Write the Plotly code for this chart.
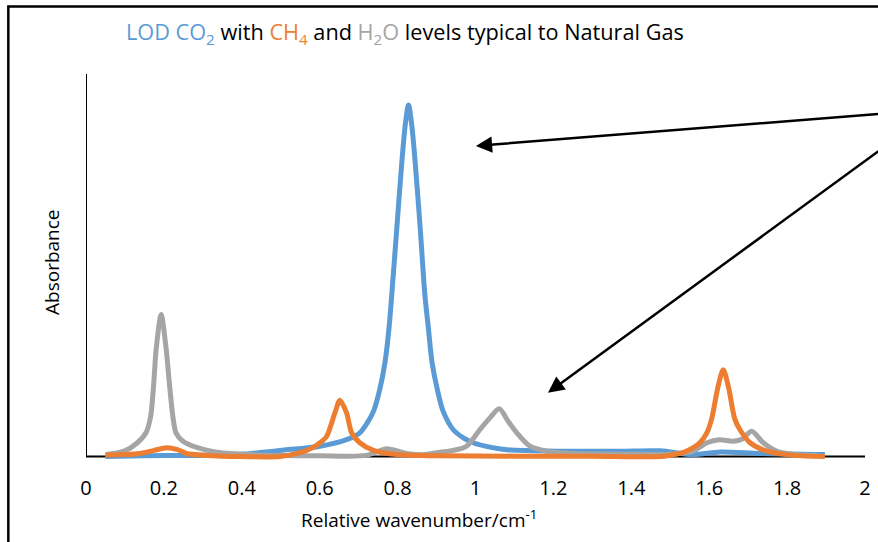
import plotly.graph_objects as go

# ---- data ----
co2_x = [0.05, 0.15, 0.25, 0.395, 0.498, 0.601, 0.669, 0.703, 0.722, 0.738, 0.755, 0.768, 0.778, 0.785,
         0.798, 0.811, 0.820, 0.828, 0.836, 0.845, 0.858, 0.870, 0.879, 0.888, 0.902, 0.917, 0.943, 0.970,
         0.994, 1.04, 1.08, 1.208, 1.371, 1.474, 1.559, 1.628, 1.73, 1.897]
co2_y = [0.0, 0.002, 0.003, 0.005, 0.016, 0.027, 0.044, 0.062, 0.088, 0.118, 0.179, 0.249, 0.336, 0.423,
         0.597, 0.771, 0.870, 0.919, 0.870, 0.771, 0.597, 0.423, 0.336, 0.249, 0.175, 0.118, 0.070, 0.048,
         0.036, 0.024, 0.018, 0.014, 0.014, 0.015, 0.005, 0.012, 0.008, 0.005]

h2o_x = [0.05, 0.098, 0.132, 0.154, 0.166, 0.174, 0.180, 0.193, 0.206, 0.214, 0.223, 0.231, 0.249, 0.286,
         0.336, 0.45, 0.60, 0.72, 0.772, 0.823, 0.87, 0.909, 0.943, 0.977, 1.011, 1.037, 1.061, 1.084, 1.106,
         1.140, 1.183, 1.25, 1.40, 1.50, 1.559, 1.594, 1.626, 1.662, 1.685, 1.709, 1.739, 1.773, 1.82, 1.88]
h2o_y = [0.005, 0.014, 0.036, 0.062, 0.105, 0.192, 0.279, 0.371, 0.279, 0.192, 0.105, 0.062, 0.040, 0.023,
         0.011, 0.004, 0.002, 0.003, 0.020, 0.008, 0.005, 0.011, 0.016, 0.027, 0.070, 0.101, 0.125, 0.092,
         0.062, 0.027, 0.014, 0.008, 0.006, 0.006, 0.014, 0.036, 0.044, 0.040, 0.046, 0.066, 0.036, 0.014,
         0.005, 0.003]

ch4_x = [0.05, 0.10, 0.139, 0.175, 0.207, 0.235, 0.258, 0.31, 0.40, 0.498, 0.549, 0.58, 0.601, 0.618, 0.639,
         0.652, 0.669, 0.682, 0.703, 0.738, 0.798, 0.90, 1.10, 1.30, 1.474, 1.508, 1.534, 1.559, 1.576, 1.594,
         1.606, 1.623, 1.636, 1.649, 1.666, 1.679, 1.705, 1.748, 1.816, 1.897]
ch4_y = [0.004, 0.005, 0.008, 0.016, 0.023, 0.018, 0.008, 0.003, 0.0, 0.0, 0.010, 0.022, 0.036, 0.053, 0.114,
         0.147, 0.114, 0.062, 0.036, 0.016, 0.005, 0.002, 0.001, 0.001, 0.0, 0.005, 0.011, 0.023, 0.036, 0.062,
         0.097, 0.184, 0.227, 0.184, 0.097, 0.070, 0.036, 0.014, 0.003, 0.0]

tick_vals = [0, 0.2, 0.4, 0.6, 0.8, 1.0, 1.2, 1.4, 1.6, 1.8, 2.0]
tick_text = ["0", "0.2", "0.4", "0.6", "0.8", "1", "1.2", "1.4", "1.6", "1.8", "2"]

BLUE, ORANGE, GRAY = "#5B9BD5", "#ED7D31", "#A5A5A5"
FONT = "Open Sans"

fig = go.Figure()
for x, y, c, name in [(co2_x, co2_y, BLUE, "CO2"), (h2o_x, h2o_y, GRAY, "H2O"), (ch4_x, ch4_y, ORANGE, "CH4")]:
    fig.add_trace(go.Scatter(x=x, y=y, mode="lines", name=name,
                             line=dict(color=c, width=5, shape="spline", smoothing=0.8)))

fig.update_layout(
    width=878, height=542,
    margin=dict(l=86, r=13, t=74, b=73.5, autoexpand=False),
    paper_bgcolor="white", plot_bgcolor="white",
    showlegend=False,
    font=dict(family=FONT, color="black", size=19),
    xaxis=dict(range=[0, 2], tickvals=tick_vals, ticktext=tick_text, showgrid=False, automargin=False,
               zeroline=False, showline=False, ticks="outside", ticklen=2, tickcolor="rgba(0,0,0,0)",
               tickfont=dict(size=20)),
    yaxis=dict(range=[-0.03, 1.0], showgrid=False, zeroline=False, showline=False, automargin=False,
               showticklabels=False, ticks=""),
    shapes=[
        dict(type="line", xref="x", yref="y", x0=0, x1=2, y0=0, y1=0,
             line=dict(color="black", width=2), layer="below"),
        dict(type="line", xref="x", yref="y", x0=0, x1=0, y0=0, y1=1,
             line=dict(color="black", width=2), layer="below"),
        dict(type="rect", xref="paper", yref="paper", x0=-0.0997, x1=1.04, y0=-0.25, y1=1.1716,
             line=dict(color="black", width=2.5), fillcolor="rgba(0,0,0,0)", layer="above"),
    ],
    annotations=[
        dict(xref="paper", yref="paper", x=0.4095, y=1.104, xanchor="center", yanchor="middle",
             showarrow=False, font=dict(size=21.7, color="black"),
             text=("<span style='color:%s'>LOD CO<sub>2</sub></span> with "
                   "<span style='color:%s'>CH<sub>4</sub></span> and "
                   "<span style='color:%s'>H<sub>2</sub>O</span> levels typical to Natural Gas") % (BLUE, ORANGE, GRAY)),
        dict(xref="paper", yref="paper", x=-0.0436, y=0.523, xanchor="center", yanchor="middle",
             showarrow=False, textangle=-90, font=dict(size=19), text="Absorbance"),
        dict(xref="paper", yref="paper", x=0.427, y=-0.13, xanchor="center", yanchor="middle",
             showarrow=False, font=dict(size=19), text="Relative wavenumber/cm<sup>-1</sup>"),
        dict(xref="x", yref="y", x=1.001, y=0.812, axref="x", ayref="y", ax=2.064, ay=0.898,
             showarrow=True, arrowhead=2, arrowsize=1.3, arrowwidth=2.5, arrowcolor="black", text=" "),
        dict(xref="x", yref="y", x=1.186, y=0.167, axref="x", ayref="y", ax=2.064, ay=0.82,
             showarrow=True, arrowhead=2, arrowsize=1.3, arrowwidth=2.5, arrowcolor="black", text=" "),
    ],
)

fig.write_html("out.html", config={"displayModeBar": False},
               post_script="document.body.style.margin='0';")
